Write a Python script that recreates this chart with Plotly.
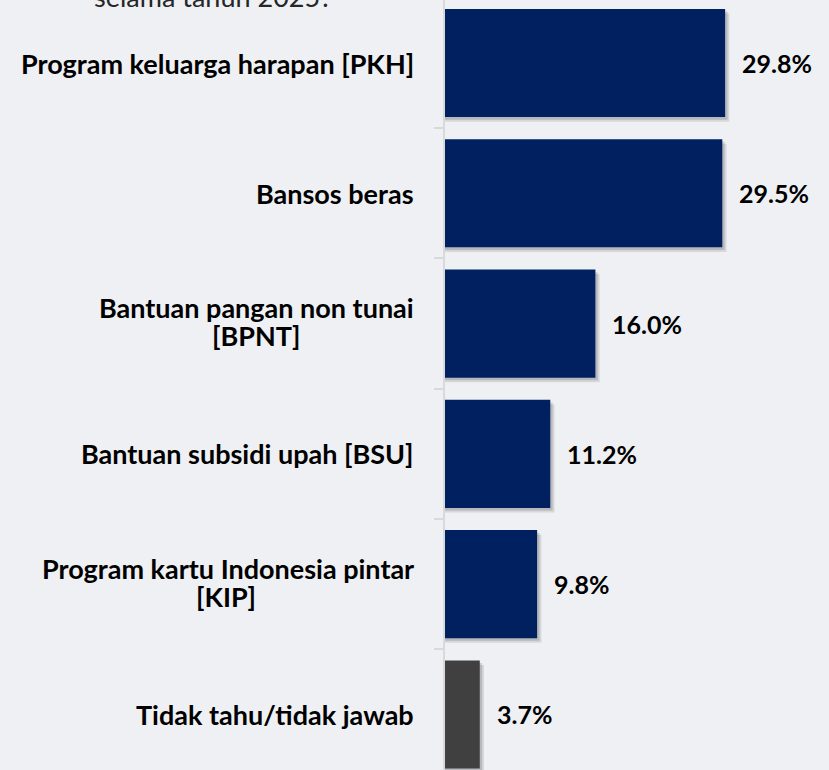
import plotly.graph_objects as go

categories = [
    "Program keluarga harapan [PKH]",
    "Bansos beras",
    "Bantuan pangan non tunai<br>[BPNT]",
    "Bantuan subsidi upah [BSU]",
    "Program kartu Indonesia pintar<br>[KIP]",
    "Tidak tahu/tidak jawab",
]
values = [29.8, 29.5, 16.0, 11.2, 9.8, 3.7]
value_labels = ["29.8%", "29.5%", "16.0%", "11.2%", "9.8%", "3.7%"]
bar_colors = ["#002060", "#002060", "#002060", "#002060", "#002060", "#404040"]
header_text = "selama tahun 2025?"

BG = "#eff0f3"
FONT = "Lato"
BAR_W = 0.83
LABEL_SIZE = 27
VALUE_SIZE = 25
LABEL_GAP = 29       # px between label right edge and axis
LINE_STEP = 14       # half line spacing for two-line labels

fig = go.Figure()

# soft drop shadow (derived from the same values)
fig.add_trace(go.Bar(
    y=categories, x=[v + 0.45 for v in values], orientation="h",
    width=BAR_W, offset=-BAR_W / 2 + 0.035,
    marker=dict(color="rgba(0,0,0,0.10)", line=dict(width=0)),
    hoverinfo="skip", showlegend=False,
))
fig.add_trace(go.Bar(
    y=categories, x=[v + 0.25 for v in values], orientation="h",
    width=BAR_W, offset=-BAR_W / 2 + 0.02,
    marker=dict(color="rgba(0,0,0,0.14)", line=dict(width=0)),
    hoverinfo="skip", showlegend=False,
))
fig.add_trace(go.Bar(
    y=categories, x=values, orientation="h",
    width=BAR_W, offset=-BAR_W / 2,
    marker=dict(color=bar_colors, line=dict(width=0)),
    showlegend=False,
))

label_font = dict(family=FONT, size=LABEL_SIZE, color="#000000", weight="bold")
# approx. width of the first line of wrapped labels (for centring the 2nd line)
first_line_width = {2: 320, 4: 381}

annotations = []
for i, cat in enumerate(categories):
    lines = cat.split("<br>")
    if len(lines) == 1:
        annotations.append(dict(
            x=0, xref="paper", xshift=-LABEL_GAP, xanchor="right",
            y=cat, yref="y", yanchor="middle",
            text=cat, showarrow=False, font=label_font,
        ))
    else:
        annotations.append(dict(
            x=0, xref="paper", xshift=-LABEL_GAP, xanchor="right",
            y=cat, yref="y", yanchor="middle", yshift=LINE_STEP + 2,
            text=lines[0], showarrow=False, font=label_font,
        ))
        annotations.append(dict(
            x=0, xref="paper", xshift=-LABEL_GAP - first_line_width[i] / 2,
            xanchor="center",
            y=cat, yref="y", yanchor="middle", yshift=-LINE_STEP + 2,
            text=lines[1], showarrow=False, font=label_font,
        ))
for cat, v, lab in zip(categories, values, value_labels):
    annotations.append(dict(
        x=v, xref="x", xshift=15, xanchor="left",
        y=cat, yref="y", yanchor="middle",
        text=lab, showarrow=False,
        font=dict(family=FONT, size=VALUE_SIZE, color="#000000", weight="bold"),
    ))
annotations.append(dict(
    x=0, xref="paper", xshift=-232, xanchor="center",
    y=1, yref="paper", yanchor="bottom", yshift=-15,
    text=header_text, showarrow=False,
    font=dict(family=FONT, size=27, color="#262626"),
))

fig.update_layout(
    width=829, height=770,
    margin=dict(l=445, r=0, t=0, b=0),
    paper_bgcolor=BG, plot_bgcolor=BG,
    barmode="overlay",
    annotations=annotations,
    xaxis=dict(range=[0, 40.85], visible=False, fixedrange=True),
    yaxis=dict(
        type="category", categoryorder="array", categoryarray=categories,
        range=[5.426, -0.4835], fixedrange=True,
        showticklabels=False, showgrid=False, zeroline=False,
        showline=True, linecolor="#d9d9d9", linewidth=2,
        ticks="outside", tickson="boundaries", ticklen=9,
        tickcolor="#d9d9d9", tickwidth=2,
    ),
)

fig.write_html(
    "out.html",
    config={"displayModeBar": False},
    post_script="document.body.style.margin='0';document.body.style.overflow='hidden';",
)
